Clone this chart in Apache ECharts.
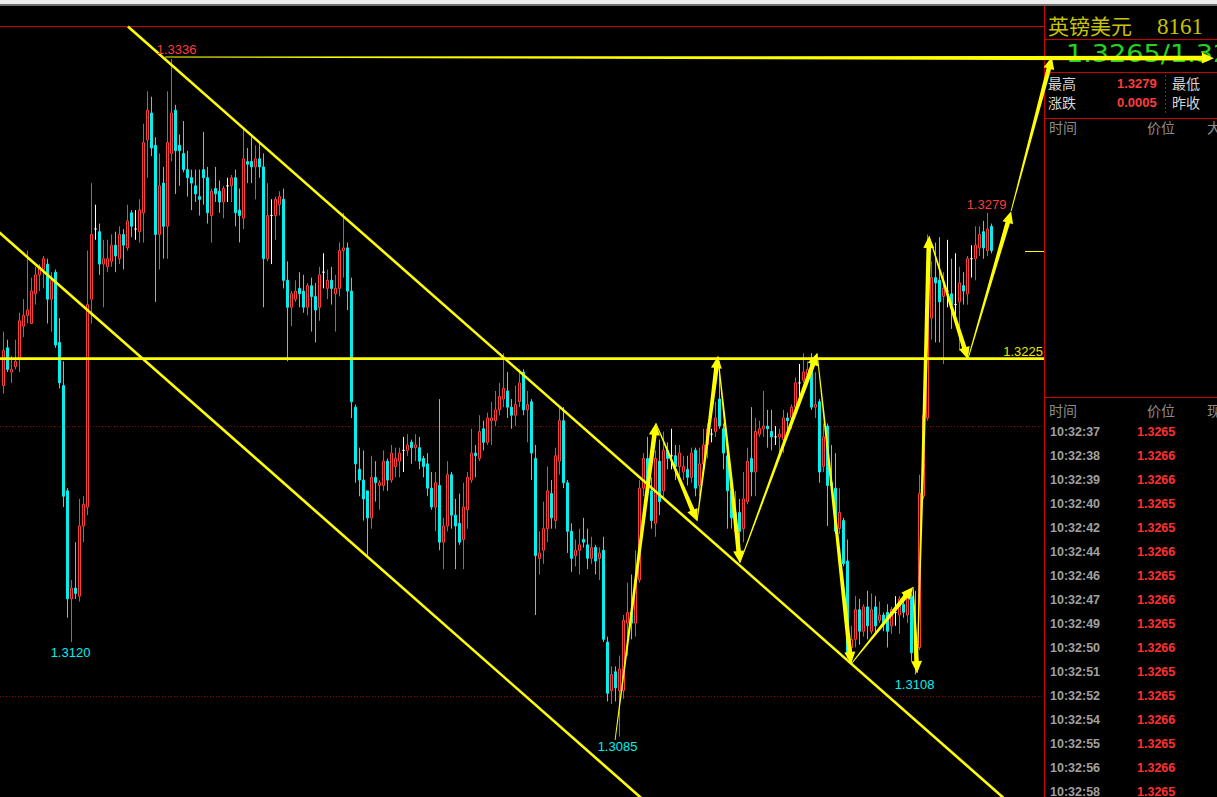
<!DOCTYPE html>
<html><head><meta charset="utf-8">
<script src="https://cdn.jsdelivr.net/npm/echarts@6/dist/echarts.min.js"></script>
<style>html,body{margin:0;padding:0;background:#000;overflow:hidden}#c{width:1217px;height:797px}</style>
</head><body><div id="c"></div>
<script>
// ---------- data ----------
const opens = [1.3215,1.3229,1.3220,1.3222,1.3225,1.3237,1.3241,1.3238,1.3249,1.3256,
1.3258,1.3260,1.3247,1.3257,1.3231,1.3215,1.3176,1.3136,1.3140,1.3137,
1.3163,1.3170,1.3247,1.3273,1.3272,1.3260,1.3259,1.3261,1.3267,1.3262,
1.3271,1.3266,1.3279,1.3273,1.3272,1.3279,1.3306,1.3316,1.3304,1.3271,
1.3290,1.3274,1.3301,1.3317,1.3304,1.3301,1.3295,1.3292,1.3289,1.3285,
1.3295,1.3292,1.3278,1.3288,1.3287,1.3283,1.3289,1.3289,1.3292,1.3280,
1.3277,1.3298,1.3298,1.3296,1.3299,1.3296,1.3262,1.3278,1.3278,1.3282,
1.3284,1.3254,1.3244,1.3247,1.3251,1.3250,1.3244,1.3252,1.3248,1.3244,
1.3257,1.3251,1.3254,1.3249,1.3251,1.3265,1.3266,1.3250,1.3207,1.3184,
1.3180,1.3176,1.3166,1.3181,1.3178,1.3178,1.3187,1.3180,1.3185,1.3187,
1.3191,1.3191,1.3194,1.3192,1.3192,1.3188,1.3186,1.3177,1.3170,1.3178,
1.3157,1.3163,1.3182,1.3167,1.3164,1.3158,1.3169,1.3180,1.3190,1.3188,
1.3199,1.3194,1.3202,1.3202,1.3206,1.3210,1.3213,1.3207,1.3204,1.3209,
1.3220,1.3206,1.3209,1.3188,1.3151,1.3154,1.3162,1.3175,1.3165,1.3187,
1.3202,1.3179,1.3161,1.3152,1.3154,1.3158,1.3156,1.3151,1.3155,1.3151,
1.3154,1.3120,1.3102,1.3109,1.3102,1.3102,1.3127,1.3131,1.3127,1.3143,
1.3177,1.3188,1.3176,1.3164,1.3187,1.3176,1.3191,1.3189,1.3189,1.3185,
1.3183,1.3184,1.3181,1.3191,1.3178,1.3186,1.3193,1.3197,1.3198,1.3210,
1.3199,1.3189,1.3176,1.3161,1.3168,1.3162,1.3172,1.3188,1.3183,1.3197,
1.3199,1.3200,1.3198,1.3196,1.3196,1.3195,1.3203,1.3203,1.3207,1.3216,
1.3217,1.3219,1.3223,1.3207,1.3209,1.3185,1.3200,1.3179,1.3177,1.3162,
1.3165,1.3150,1.3118,1.3121,1.3132,1.3124,1.3133,1.3124,1.3133,1.3128,
1.3130,1.3131,1.3126,1.3131,1.3130,1.3134,1.3130,1.3137,1.3118,1.3118,
1.3174,1.3203,1.3240,1.3255,1.3254,1.3248,1.3250,1.3249,1.3245,1.3246,
1.3252,1.3249,1.3262,1.3262,1.3266,1.3272,1.3265,1.3274];

const closes = [1.3228,1.3221,1.3221,1.3224,1.3239,1.3241,1.3243,1.3250,1.3256,1.3259,
1.3262,1.3247,1.3254,1.3230,1.3216,1.3174,1.3136,1.3140,1.3138,1.3163,
1.3171,1.3245,1.3271,1.3273,1.3260,1.3262,1.3262,1.3267,1.3263,1.3271,
1.3267,1.3276,1.3274,1.3273,1.3280,1.3305,1.3317,1.3303,1.3271,1.3289,
1.3274,1.3305,1.3316,1.3302,1.3302,1.3295,1.3292,1.3290,1.3286,1.3284,
1.3292,1.3279,1.3287,1.3286,1.3283,1.3288,1.3289,1.3292,1.3279,1.3278,
1.3299,1.3297,1.3296,1.3299,1.3296,1.3262,1.3278,1.3278,1.3284,1.3285,
1.3254,1.3244,1.3249,1.3250,1.3249,1.3244,1.3252,1.3248,1.3243,1.3256,
1.3257,1.3254,1.3251,1.3251,1.3265,1.3266,1.3250,1.3209,1.3186,1.3180,
1.3173,1.3166,1.3181,1.3179,1.3179,1.3187,1.3180,1.3190,1.3188,1.3190,
1.3191,1.3193,1.3192,1.3193,1.3187,1.3185,1.3177,1.3170,1.3179,1.3157,
1.3163,1.3182,1.3167,1.3163,1.3157,1.3170,1.3181,1.3190,1.3189,1.3198,
1.3194,1.3203,1.3203,1.3206,1.3211,1.3214,1.3207,1.3204,1.3208,1.3216,
1.3206,1.3208,1.3190,1.3152,1.3153,1.3162,1.3176,1.3166,1.3189,1.3202,
1.3179,1.3161,1.3151,1.3154,1.3156,1.3157,1.3151,1.3155,1.3150,1.3153,
1.3121,1.3101,1.3108,1.3103,1.3110,1.3128,1.3131,1.3127,1.3143,1.3177,
1.3188,1.3176,1.3165,1.3188,1.3172,1.3191,1.3188,1.3189,1.3185,1.3190,
1.3185,1.3181,1.3190,1.3177,1.3186,1.3193,1.3199,1.3197,1.3203,1.3200,
1.3190,1.3176,1.3166,1.3168,1.3161,1.3173,1.3187,1.3183,1.3198,1.3199,
1.3200,1.3199,1.3196,1.3196,1.3197,1.3203,1.3202,1.3207,1.3216,1.3216,
1.3220,1.3221,1.3207,1.3208,1.3183,1.3196,1.3178,1.3178,1.3161,1.3168,
1.3149,1.3116,1.3121,1.3132,1.3124,1.3133,1.3126,1.3132,1.3126,1.3130,
1.3127,1.3124,1.3132,1.3131,1.3136,1.3131,1.3136,1.3116,1.3117,1.3175,
1.3204,1.3242,1.3255,1.3253,1.3246,1.3251,1.3250,1.3245,1.3245,1.3253,
1.3250,1.3262,1.3262,1.3267,1.3271,1.3266,1.3273,1.3265];

const lows = [1.3212,1.3220,1.3216,1.3221,1.3220,1.3233,1.3238,1.3238,1.3245,1.3250,
1.3251,1.3238,1.3235,1.3229,1.3214,1.3170,1.3129,1.3120,1.3136,1.3135,
1.3157,1.3167,1.3238,1.3269,1.3256,1.3244,1.3257,1.3259,1.3257,1.3260,
1.3258,1.3265,1.3270,1.3269,1.3268,1.3268,1.3292,1.3300,1.3246,1.3258,
1.3262,1.3262,1.3298,1.3286,1.3289,1.3294,1.3285,1.3280,1.3283,1.3278,
1.3282,1.3275,1.3268,1.3283,1.3279,1.3277,1.3283,1.3283,1.3274,1.3268,
1.3273,1.3290,1.3290,1.3284,1.3292,1.3244,1.3261,1.3260,1.3269,1.3278,
1.3251,1.3224,1.3237,1.3246,1.3244,1.3242,1.3241,1.3235,1.3231,1.3239,
1.3251,1.3247,1.3245,1.3235,1.3248,1.3255,1.3243,1.3203,1.3179,1.3174,
1.3165,1.3152,1.3162,1.3172,1.3169,1.3176,1.3176,1.3179,1.3181,1.3181,
1.3183,1.3189,1.3186,1.3187,1.3184,1.3181,1.3174,1.3169,1.3161,1.3154,
1.3147,1.3161,1.3162,1.3147,1.3156,1.3147,1.3162,1.3179,1.3181,1.3187,
1.3191,1.3193,1.3193,1.3200,1.3204,1.3207,1.3203,1.3199,1.3200,1.3207,
1.3204,1.3194,1.3180,1.3130,1.3145,1.3149,1.3157,1.3162,1.3162,1.3182,
1.3177,1.3153,1.3146,1.3148,1.3145,1.3155,1.3147,1.3149,1.3145,1.3143,
1.3120,1.3098,1.3097,1.3098,1.3085,1.3099,1.3115,1.3121,1.3122,1.3142,
1.3174,1.3173,1.3162,1.3159,1.3167,1.3173,1.3184,1.3184,1.3180,1.3180,
1.3180,1.3178,1.3179,1.3174,1.3174,1.3183,1.3188,1.3194,1.3196,1.3199,
1.3184,1.3162,1.3162,1.3160,1.3157,1.3157,1.3171,1.3174,1.3174,1.3196,
1.3196,1.3192,1.3191,1.3193,1.3189,1.3190,1.3197,1.3199,1.3206,1.3211,
1.3216,1.3217,1.3206,1.3203,1.3179,1.3183,1.3163,1.3176,1.3160,1.3160,
1.3148,1.3114,1.3113,1.3118,1.3119,1.3122,1.3121,1.3123,1.3123,1.3127,
1.3124,1.3118,1.3123,1.3126,1.3123,1.3129,1.3127,1.3113,1.3108,1.3117,
1.3173,1.3202,1.3232,1.3231,1.3231,1.3223,1.3244,1.3236,1.3241,1.3228,
1.3245,1.3245,1.3255,1.3254,1.3263,1.3262,1.3263,1.3264];

const highs = [1.3235,1.3232,1.3226,1.3232,1.3242,1.3247,1.3265,1.3255,1.3259,1.3260,
1.3263,1.3262,1.3257,1.3258,1.3240,1.3224,1.3177,1.3143,1.3157,1.3173,
1.3174,1.3265,1.3290,1.3282,1.3275,1.3269,1.3269,1.3271,1.3272,1.3274,
1.3273,1.3282,1.3280,1.3280,1.3284,1.3312,1.3324,1.3322,1.3307,1.3301,
1.3296,1.3324,1.3336,1.3319,1.3308,1.3313,1.3302,1.3295,1.3295,1.3295,
1.3309,1.3296,1.3288,1.3296,1.3291,1.3289,1.3292,1.3293,1.3295,1.3288,
1.3310,1.3303,1.3307,1.3304,1.3305,1.3301,1.3290,1.3284,1.3285,1.3287,
1.3288,1.3261,1.3250,1.3254,1.3257,1.3256,1.3253,1.3255,1.3253,1.3259,
1.3264,1.3258,1.3259,1.3256,1.3268,1.3279,1.3268,1.3255,1.3208,1.3192,
1.3191,1.3176,1.3189,1.3187,1.3180,1.3191,1.3188,1.3193,1.3192,1.3192,
1.3196,1.3197,1.3195,1.3197,1.3196,1.3189,1.3190,1.3183,1.3183,1.3210,
1.3166,1.3187,1.3183,1.3173,1.3175,1.3179,1.3183,1.3199,1.3193,1.3204,
1.3202,1.3205,1.3209,1.3213,1.3216,1.3227,1.3220,1.3210,1.3215,1.3221,
1.3221,1.3213,1.3210,1.3193,1.3161,1.3172,1.3185,1.3180,1.3192,1.3207,
1.3207,1.3180,1.3164,1.3158,1.3162,1.3166,1.3162,1.3159,1.3156,1.3155,
1.3159,1.3122,1.3111,1.3111,1.3115,1.3130,1.3142,1.3145,1.3154,1.3180,
1.3190,1.3196,1.3181,1.3191,1.3195,1.3198,1.3194,1.3199,1.3193,1.3193,
1.3189,1.3189,1.3192,1.3192,1.3192,1.3199,1.3201,1.3199,1.3209,1.3224,
1.3201,1.3190,1.3180,1.3176,1.3173,1.3183,1.3192,1.3207,1.3203,1.3202,
1.3213,1.3206,1.3206,1.3200,1.3199,1.3206,1.3205,1.3208,1.3218,1.3223,
1.3227,1.3224,1.3227,1.3220,1.3210,1.3201,1.3201,1.3193,1.3190,1.3177,
1.3166,1.3158,1.3126,1.3137,1.3136,1.3134,1.3139,1.3138,1.3137,1.3135,
1.3131,1.3134,1.3133,1.3137,1.3137,1.3138,1.3139,1.3138,1.3139,1.3182,
1.3212,1.3271,1.3261,1.3268,1.3270,1.3257,1.3269,1.3262,1.3264,1.3259,
1.3257,1.3263,1.3267,1.3274,1.3274,1.3276,1.3279,1.3275];

// visible price window of the chart (bottom / top edge)
const priceMin = 1.30626, priceMax = 1.33482;
const gridLevels = [1.3100, 1.3200];
const resistanceLevel = 1.3225;
const lastPrice = 1.3265;
// marked extremes (candle index)
const markedHighs = [42, 246];
const markedLows = [17, 154, 228];
// channel lines: [slot1, price1, slot2, price2]
const channelLines = [[31.1, 1.33480, 251.6, 1.30602], [-2.1, 1.32731, 161.6, 1.30594]];
// zig-zag arrow path: [slot, price]
const zigzagPoints = [[152.9,1.30837],[163.1,1.32011],[173.4,1.31648],[178.6,1.32259],[184.1,1.31493],
  [203.4,1.32270],[211.9,1.31119],[227.4,1.31404],[228.4,1.31085],[231.4,1.32704],[241.1,1.32248],
  [251.9,1.32796],[262.1,1.33367]];
const highArrow = [[40.4, 1.33367], [302.6, 1.33363]];

// quote panel
const symbolName = '英镑美元';
const symbolCode = '8161';
const quoteText = '1.3265/1.3266';
const statLabels = [['最高', '最低'], ['涨跌', '昨收']];
const statValues = ['1.3279', '0.0005'];
const headerLabels = ['时间', '价位', '大'];
const tapeHeader = ['时间', '价位', '现'];
const tapeTimes = ['10:32:37','10:32:38','10:32:39','10:32:40','10:32:42','10:32:44','10:32:46','10:32:47',
  '10:32:49','10:32:50','10:32:51','10:32:52','10:32:54','10:32:55','10:32:56','10:32:58'];
const tapePrices = ['1.3265','1.3266','1.3266','1.3265','1.3265','1.3266','1.3265','1.3266',
  '1.3265','1.3266','1.3265','1.3265','1.3266','1.3265','1.3266','1.3265'];

// ---------- layout ----------
const W = 1217, H = 797;
const plotTop = 26, plotH = H - plotTop;
const candleLeft = 1.5, slotW = 4, slotCount = 261;
const plotRight = 1044;
const slotOf = px => (px - candleLeft) / slotW - 0.5;
const categories = Array.from({length: slotCount}, (_, i) => String(i));

const RED = '#ff3c3c', CYAN = '#00f0f0', YEL = '#ffff00', BORDER = '#cc0000';

const candleData = opens.map((o, i) => {
  const item = {value: [o, closes[i], lows[i], highs[i]]};
  if (o === closes[i]) item.itemStyle = {color: '#fff', color0: '#fff', borderColor: '#fff', borderColor0: '#fff'};
  return item;
});

function taper(p0, p1, w0, w1, headLen, headHalf) {
  const dx = p1[0] - p0[0], dy = p1[1] - p0[1];
  const L = Math.hypot(dx, dy);
  const ux = dx / L, uy = dy / L, nx = -uy, ny = ux;
  const bx = p1[0] - ux * headLen, by = p1[1] - uy * headLen;
  return [[p0[0] + nx * w0, p0[1] + ny * w0], [bx + nx * w1, by + ny * w1], [bx + nx * headHalf, by + ny * headHalf],
    [p1[0], p1[1]], [bx - nx * headHalf, by - ny * headHalf], [bx - nx * w1, by - ny * w1], [p0[0] - nx * w0, p0[1] - ny * w0]];
}

const arrowSegs = [];
for (let k = 0; k + 1 < zigzagPoints.length; k++) arrowSegs.push([zigzagPoints[k][0], zigzagPoints[k][1], zigzagPoints[k + 1][0], zigzagPoints[k + 1][1]]);
arrowSegs.push([highArrow[0][0], highArrow[0][1], highArrow[1][0], highArrow[1][1]]);

const labelItems = [];
markedHighs.forEach(i => labelItems.push([i, highs[i], 1]));
markedLows.forEach(i => labelItems.push([i, lows[i], -1]));
const labelShift = {42: [5, -9], 246: [-1, -8], 17: [-1, 10], 154: [-2, 10], 228: [-1, 10]};

// ---------- panel graphics ----------
const g = [];
const ln = (x1, y1, x2, y2, stroke, extra) => g.push({type: 'line', silent: true, z: 5, shape: {x1, y1, x2, y2}, style: Object.assign({stroke, lineWidth: 1}, extra || {})});
const tx = (x, y, t, font, fill, extra) => g.push(Object.assign({type: 'text', silent: true, z: 6, x, y,
  style: {text: t, font, fill, textAlign: 'left', textVerticalAlign: 'middle', align: 'left', verticalAlign: 'middle'}}, extra || {}));
g.push({type: 'rect', silent: true, z: 5, shape: {x: 0, y: 0, width: W, height: 4}, style: {fill: '#ececec'}});
g.push({type: 'rect', silent: true, z: 5, shape: {x: 0, y: 4, width: W, height: 2}, style: {fill: '#6e6e6e'}});
ln(0, 26.5, plotRight, 26.5, BORDER);
ln(plotRight + 0.5, 6, plotRight + 0.5, H, BORDER);
[39.5, 72.5, 118.5, 397.5].forEach(y => ln(plotRight + 1, y, W, y, BORDER));
ln(1165.5, 75, 1165.5, 114, BORDER, {lineDash: [2, 2]});

const CJK = '"Noto Sans CJK SC"';
tx(1048, 25, symbolName, `21px ${CJK}`, '#c8c400');
tx(1157, 26, symbolCode, '23px "Liberation Serif"', '#c8c400');
tx(1066, 54, quoteText, '24px "DejaVu Sans"', '#22d422', {scaleX: 1.13, scaleY: 1});
statLabels.forEach((row, r) => {
  const y = 83 + r * 19;
  tx(1048, y, row[0], `14px ${CJK}`, '#d6d6d6');
  tx(1172, y, row[1], `14px ${CJK}`, '#d6d6d6');
  tx(1117, y, statValues[r], 'bold 13px "Liberation Sans"', RED);
});
[1049, 1147, 1207].forEach((x, k) => tx(x, 127, headerLabels[k], `14px ${CJK}`, '#8c8c8c'));
[1049, 1147, 1207].forEach((x, k) => tx(x, 410, tapeHeader[k], `14px ${CJK}`, '#8c8c8c'));
tapeTimes.forEach((t, k) => {
  const y = 432 + k * 24;
  tx(1050, y, t, 'bold 12.5px "Liberation Sans"', '#a0a0a0');
  tx(1137, y, tapePrices[k], 'bold 12.5px "Liberation Sans"', '#ff3030');
});

// ---------- chart ----------
const chart = echarts.init(document.getElementById('c'), null, {renderer: 'svg', width: W, height: H});
const hiddenAxis = {show: false, axisLine: {show: false}, axisTick: {show: false}, axisLabel: {show: false}, splitLine: {show: false}};
chart.setOption({
  backgroundColor: '#000000',
  animation: false,
  grid: [
    {left: candleLeft, top: plotTop, width: slotW * slotCount, height: plotH},
    {left: 0, top: plotTop, width: W, height: plotH}
  ],
  xAxis: [
    Object.assign({type: 'category', data: categories, boundaryGap: true, gridIndex: 0}, hiddenAxis),
    Object.assign({type: 'value', min: slotOf(0), max: slotOf(W), gridIndex: 1}, hiddenAxis)
  ],
  yAxis: [
    Object.assign({type: 'value', min: priceMin, max: priceMax, gridIndex: 0}, hiddenAxis),
    Object.assign({type: 'value', min: priceMin, max: priceMax, gridIndex: 1}, hiddenAxis)
  ],
  graphic: {elements: g},
  series: [
    { // dotted price grid
      type: 'custom', xAxisIndex: 1, yAxisIndex: 1, z: 1, silent: true, clip: false,
      data: gridLevels.map(v => [v]),
      renderItem: (p, api) => {
        const a = api.coord([slotOf(0), api.value(0)]), b = api.coord([slotOf(plotRight), api.value(0)]);
        const y = Math.round(a[1]) + 0.5;
        return {type: 'line', shape: {x1: a[0], y1: y, x2: b[0], y2: y}, style: {stroke: '#8a0000', lineWidth: 1, lineDash: [1, 2]}};
      }
    },
    {
      type: 'candlestick', xAxisIndex: 0, yAxisIndex: 0, z: 2, silent: true, barWidth: 3,
      data: candleData,
      itemStyle: {color: '#000000', color0: CYAN, borderColor: RED, borderColor0: CYAN, borderColorDoji: '#ffffff', borderWidth: 1},
      emphasis: {disabled: true}
    },
    { // channel lines
      type: 'custom', xAxisIndex: 1, yAxisIndex: 1, z: 10, silent: true, clip: false,
      data: channelLines,
      renderItem: (p, api) => {
        const a = api.coord([api.value(0), api.value(1)]), b = api.coord([api.value(2), api.value(3)]);
        return {type: 'line', shape: {x1: a[0], y1: a[1], x2: b[0], y2: b[1]}, style: {stroke: YEL, lineWidth: 2.6}};
      }
    },
    { // resistance line, its label and the last-price tick
      type: 'custom', xAxisIndex: 1, yAxisIndex: 1, z: 10, silent: true, clip: false,
      data: [[resistanceLevel, lastPrice]],
      renderItem: (p, api) => {
        const a = api.coord([slotOf(0), api.value(0)]), b = api.coord([slotOf(plotRight), api.value(0)]);
        const c = api.coord([slotOf(1025), api.value(1)]), d = api.coord([slotOf(plotRight), api.value(1)]);
        return {type: 'group', children: [
          {type: 'line', shape: {x1: a[0], y1: a[1], x2: b[0], y2: b[1]}, style: {stroke: YEL, lineWidth: 2.6}},
          {type: 'line', shape: {x1: c[0], y1: Math.round(c[1]) + 0.5, x2: d[0], y2: Math.round(c[1]) + 0.5}, style: {stroke: YEL, lineWidth: 1}},
          {type: 'text', x: b[0] - 1, y: a[1] - 7, style: {text: api.value(0).toFixed(4), font: '13px "Liberation Sans"', fill: '#e6e600',
            textAlign: 'right', textVerticalAlign: 'middle', align: 'right', verticalAlign: 'middle'}}
        ]};
      }
    },
    { // tapered arrows
      type: 'custom', xAxisIndex: 1, yAxisIndex: 1, z: 11, silent: true, clip: false,
      data: arrowSegs,
      renderItem: (p, api) => {
        const a = api.coord([api.value(0), api.value(1)]), b = api.coord([api.value(2), api.value(3)]);
        return {type: 'polygon', shape: {points: taper(a, b, 0.45, 2.3, 12, 5.5)}, style: {fill: YEL}};
      }
    },
    { // extreme labels
      type: 'custom', xAxisIndex: 1, yAxisIndex: 1, z: 12, silent: true, clip: false,
      data: labelItems,
      renderItem: (p, api) => {
        const idx = api.value(0), pr = api.value(1), kind = api.value(2);
        const pt = api.coord([idx, pr]);
        const s = labelShift[idx] || [0, kind > 0 ? -9 : 10];
        return {type: 'text', x: pt[0] + s[0], y: pt[1] + s[1], style: {text: pr.toFixed(4), font: '13px "Liberation Sans"',
          fill: kind > 0 ? RED : CYAN, textAlign: 'center', textVerticalAlign: 'middle', align: 'center', verticalAlign: 'middle'}};
      }
    }
  ]
});
</script>
</body></html>
